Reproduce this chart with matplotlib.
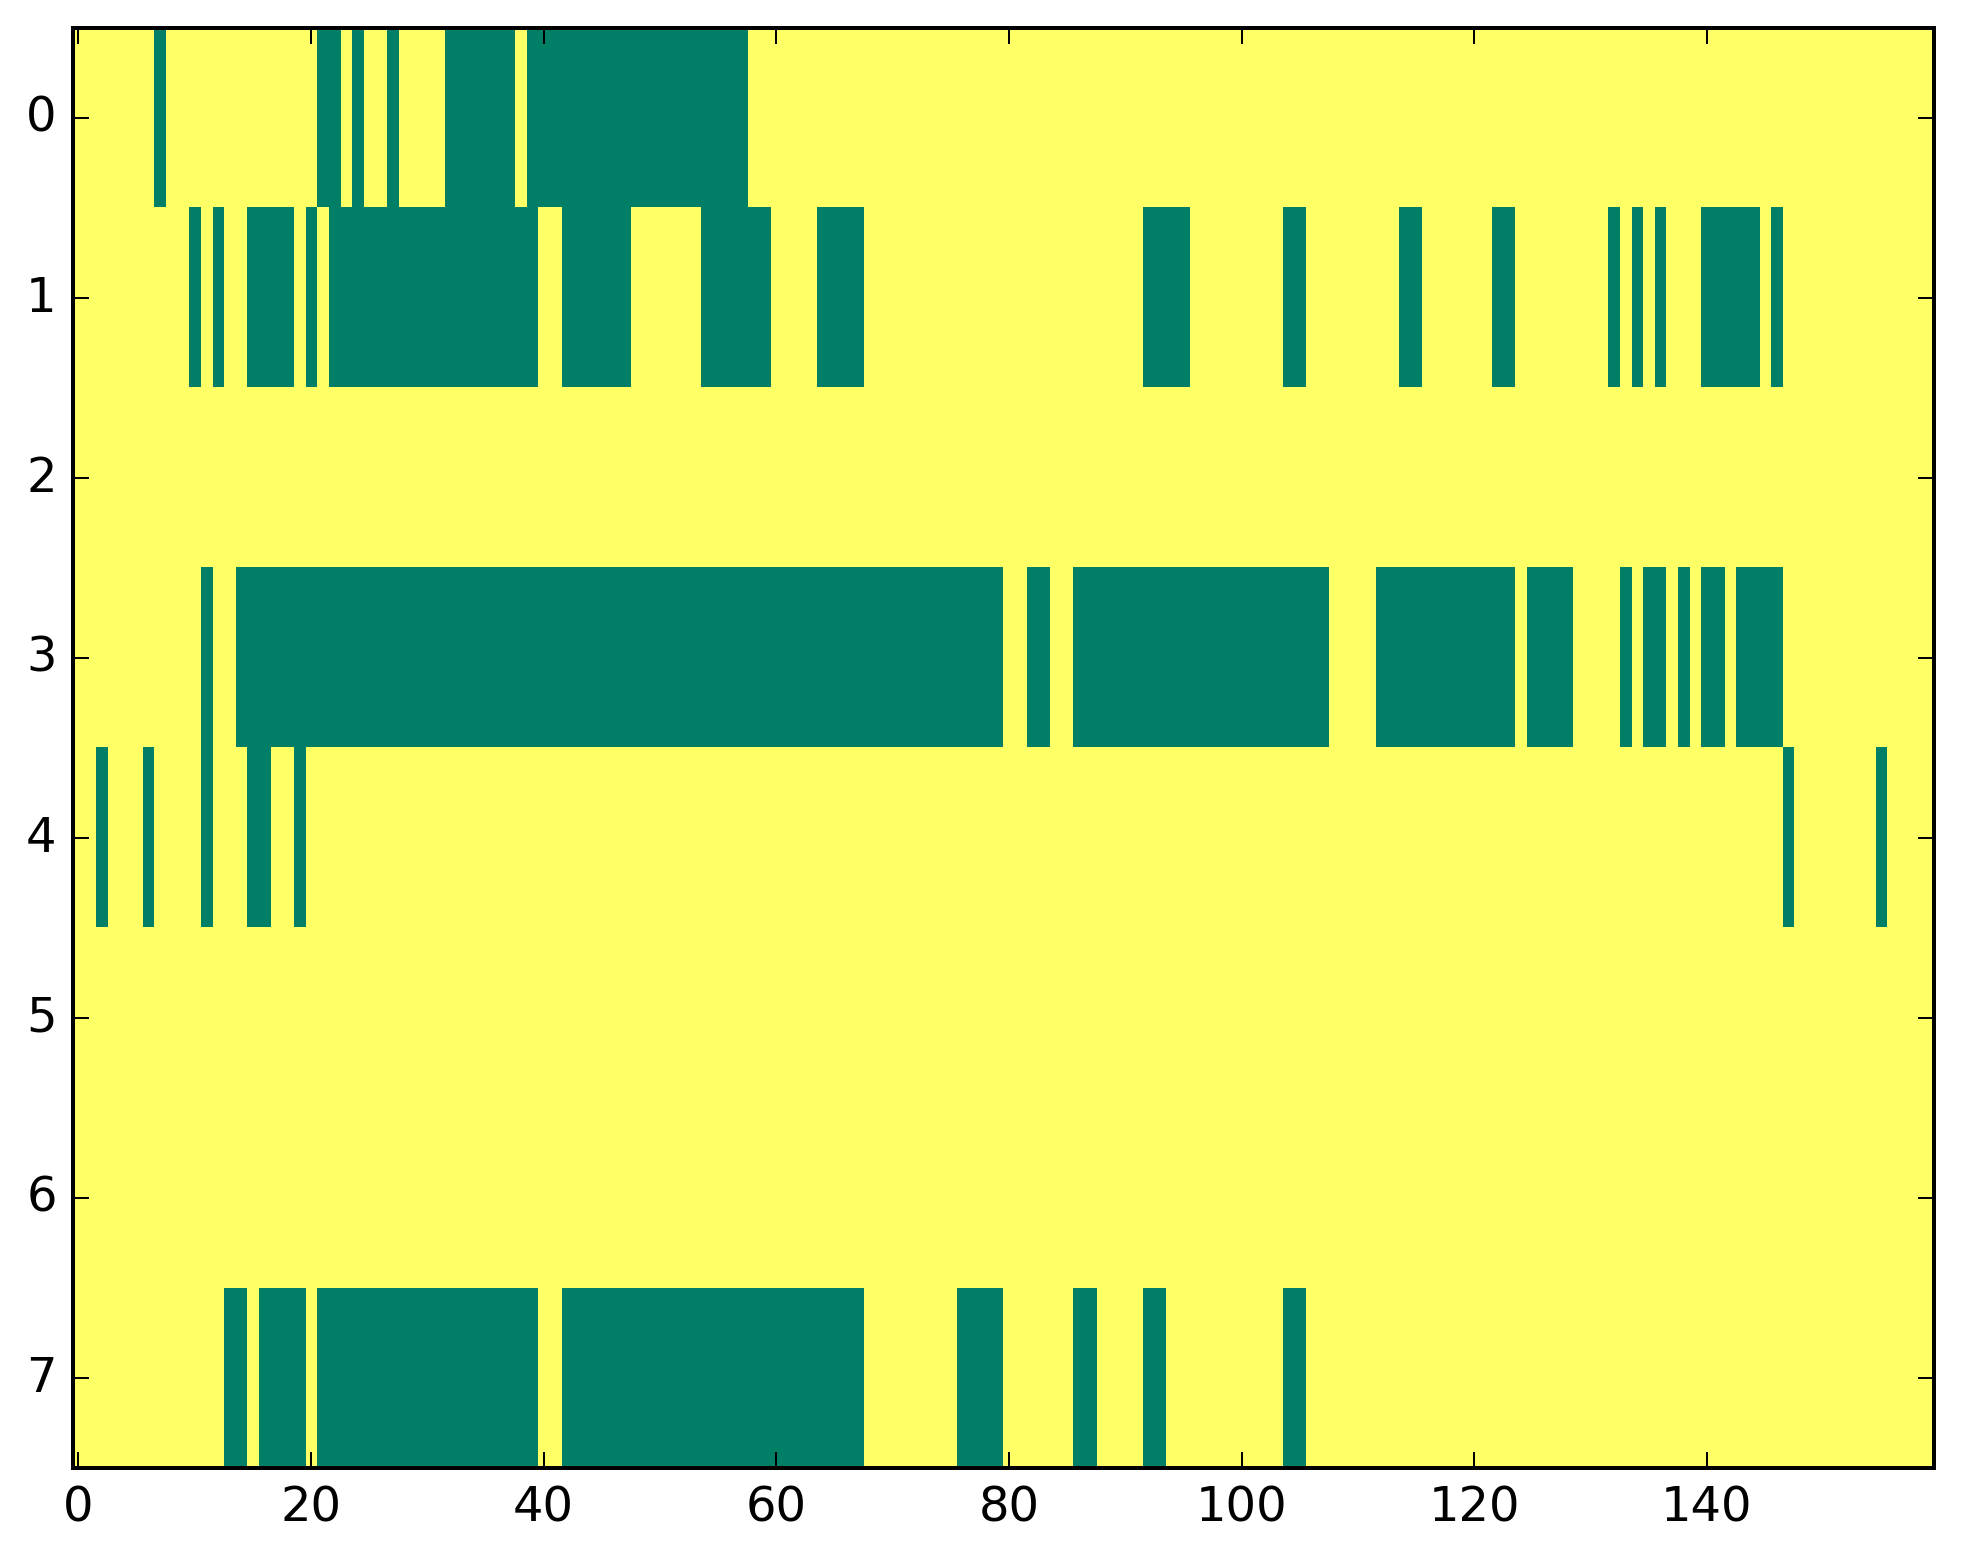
import matplotlib
matplotlib.use("Agg")
import matplotlib.pyplot as plt
import numpy as np

plt.style.use('classic')

# grid size
n_rows = 8
n_cols = 160

# green cells per row, as inclusive (first, last) column runs
row0 = [(7, 7), (21, 22), (24, 24), (27, 27), (32, 37), (39, 57)]
row1 = [(10, 10), (12, 12), (15, 18), (20, 20), (22, 39), (42, 47), (54, 59),
        (64, 67), (92, 95), (104, 105), (114, 115), (122, 123), (132, 132),
        (134, 134), (136, 136), (140, 144), (146, 146)]
row2 = []
row3 = [(11, 11), (14, 79), (82, 83), (86, 107), (112, 123), (125, 128),
        (133, 133), (135, 136), (138, 138), (140, 141), (143, 146)]
row4 = [(2, 2), (6, 6), (11, 11), (15, 16), (19, 19), (147, 147), (155, 155)]
row5 = []
row6 = []
row7 = [(13, 14), (16, 19), (21, 39), (42, 67), (76, 79), (86, 87), (92, 93),
        (104, 105)]

rows = [row0, row1, row2, row3, row4, row5, row6, row7]

# 1 = yellow background, 0 = green
grid = np.ones((n_rows, n_cols))
for r, runs in enumerate(rows):
    for a, b in runs:
        grid[r, a:b + 1] = 0

dpi = 288
fig = plt.figure(figsize=(1963 / dpi, 1564 / dpi), dpi=dpi, facecolor='white')
ax = fig.add_axes([0.037, 0.0612, 0.948, 0.9209])

ax.imshow(grid, cmap='summer', aspect='auto', interpolation='nearest',
          vmin=0, vmax=1)

ax.set_xticks(np.arange(0, 141, 20))
ax.set_yticks(np.arange(0, n_rows))

fig.savefig('out.png', dpi=dpi, facecolor='white')
